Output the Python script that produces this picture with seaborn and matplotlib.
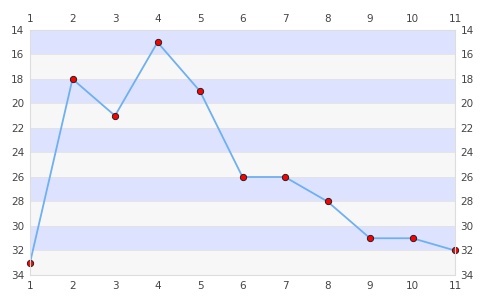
import matplotlib
matplotlib.use("Agg")
import matplotlib.pyplot as plt
import seaborn as sns
import pandas as pd

x_values = [1, 2, 3, 4, 5, 6, 7, 8, 9, 10, 11]
y_values = [33, 18, 21, 15, 19, 26, 26, 28, 31, 31, 32]
y_ticks = [14, 16, 18, 20, 22, 24, 26, 28, 30, 32, 34]

sns.set_theme(style="white")
plt.rcParams['font.family'] = ['DejaVu Sans']

df = pd.DataFrame({"x": x_values, "y": y_values})

fig = plt.figure(figsize=(4.85, 3.0), dpi=100)
ax = fig.add_axes([30/485, 25/300, 425/485, 245/300])

for i, lo in enumerate(range(14, 34, 2)):
    ax.axhspan(lo, lo + 2, color="#dde3ff" if i % 2 == 0 else "#f7f7f7", zorder=0, lw=0)
for t in y_ticks:
    ax.axhline(t, color="#e2e2e2", lw=0.6, zorder=0.5)

sns.lineplot(data=df, x="x", y="y", ax=ax, color="#6eb0f2", lw=1.3, zorder=2,
             marker="o", markersize=4.5, markerfacecolor="#ff0000", markeredgecolor="#222222",
             markeredgewidth=0.7)

ax.set_xlim(1, 11)
ax.set_ylim(34, 14)
ax.set_xticks(x_values)
ax.set_yticks(y_ticks)
ax.set_xlabel("")
ax.set_ylabel("")
ax.tick_params(axis="both", length=0, labelsize=7.5, colors="#444444", pad=4)
ax.tick_params(top=True, labeltop=True, right=True, labelright=True)
for s in ax.spines.values():
    s.set_color("#dddddd")
    s.set_linewidth(0.8)
for sp in ax.collections + ax.lines:
    sp.set_clip_on(False)

fig.savefig("out.png", dpi=100)
